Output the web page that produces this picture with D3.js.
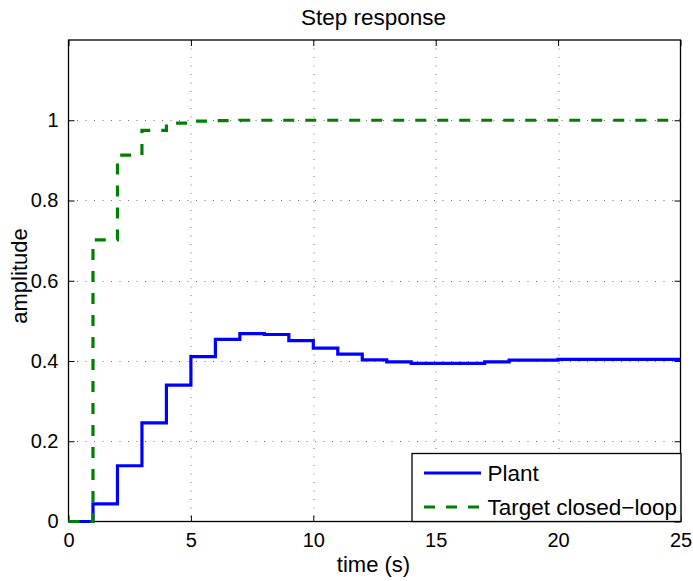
<!DOCTYPE html>
<meta charset="utf-8">
<style>
  body { margin: 0; background: #fff; }
  * { font-family: "Liberation Sans", Arial, sans-serif; }
  .grid line { stroke: #000; stroke-width: 1; stroke-dasharray: 1,7.5; opacity: 0.55; }
</style>
<body>
<script src="https://d3js.org/d3.v7.min.js"></script>
<script>
// sample times (step held until next sample)
var times = [0,1,2,3,4,5,6,7,8,9,10,11,12,13,14,15,16,17,18,19,20,21,22,23,24,25];
// plant step response
var plant = [0,0.044,0.139,0.246,0.340,0.411,0.454,0.468,0.466,0.451,0.432,0.417,0.403,0.398,0.394,0.394,0.394,0.398,0.402,0.402,0.404,0.404,0.404,0.404,0.404,0.404];
// target closed-loop step response
var target = [0,0.702,0.913,0.975,0.993,0.998,0.999,1,1,1,1,1,1,1,1,1,1,1,1,1,1,1,1,1,1,1];
var xTicks = [0,5,10,15,20,25];
var yTicks = [0,0.2,0.4,0.6,0.8,1];

var W = 693, H = 581;
var margin = {top: 40, right: 12.5, bottom: 59.5, left: 68.5};
var width = W - margin.left - margin.right,
    height = H - margin.top - margin.bottom;

var svg = d3.select("body").append("svg").attr("width", W).attr("height", H);
var g = svg.append("g").attr("transform", "translate(" + margin.left + "," + margin.top + ")");

var x = d3.scaleLinear().domain([0, 25]).range([0, width]);
var y = d3.scaleLinear().domain([0, 1.2]).range([height, 0]);

//grid
var grid = g.append("g").attr("class", "grid");
grid.selectAll(".gx").data(xTicks.slice(1, -1)).enter().append("line")
  .attr("x1", function(d){ return Math.round(x(d)) + 0.5; })
  .attr("x2", function(d){ return Math.round(x(d)) + 0.5; })
  .attr("y1", 0).attr("y2", height);
grid.selectAll(".gy").data(yTicks.slice(1)).enter().append("line")
  .attr("y1", function(d){ return Math.round(y(d)) + 0.5; })
  .attr("y2", function(d){ return Math.round(y(d)) + 0.5; })
  .attr("x1", 0).attr("x2", width);

//axes (inward ticks on all sides)
function styleAxis(sel, labels) {
  sel.select(".domain").remove();
  sel.selectAll(".tick line").attr("stroke", "#000").attr("stroke-width", 1);
  sel.selectAll(".tick text").attr("fill", "#000").style("font-size", "20px");
  if (!labels) sel.selectAll(".tick text").remove();
}
var xb = g.append("g").attr("transform", "translate(0," + height + ")")
  .call(d3.axisBottom(x).tickValues(xTicks).tickSize(-6).tickPadding(11).tickFormat(d3.format("d")));
styleAxis(xb, true);
var xt = g.append("g").call(d3.axisTop(x).tickValues(xTicks).tickSize(-6));
styleAxis(xt, false);
var yl = g.append("g")
  .call(d3.axisLeft(y).tickValues(yTicks).tickSize(-6).tickPadding(10).tickFormat(function(d){ return d === 0 || d === 1 ? d3.format("d")(d) : d3.format(".1f")(d); }));
styleAxis(yl, true);
var yr = g.append("g").attr("transform", "translate(" + width + ",0)")
  .call(d3.axisRight(y).tickValues(yTicks).tickSize(-6));
styleAxis(yr, false);

g.append("rect").attr("width", width).attr("height", height)
  .attr("fill", "none").attr("stroke", "#000").attr("stroke-width", 1.3);

//step lines
var line = d3.line().curve(d3.curveStepAfter)
  .x(function(d){ return x(d[0]); })
  .y(function(d){ return y(d[1]); });

var clip = g.append("clipPath").attr("id", "clip").append("rect")
  .attr("x", -2).attr("y", 0).attr("width", width + 2).attr("height", height + 2);

g.append("path").attr("clip-path", "url(#clip)")
  .attr("d", line(d3.zip(times, plant)))
  .attr("fill", "none").attr("stroke", "#0000ff").attr("stroke-width", 3.2);
g.append("path").attr("clip-path", "url(#clip)")
  .attr("d", line(d3.zip(times, target)))
  .attr("fill", "none").attr("stroke", "#008000").attr("stroke-width", 3.2)
  .attr("stroke-dasharray", "11,11");

//labels
svg.append("text").attr("x", 373.5).attr("y", 25)
  .attr("text-anchor", "middle").style("font-size", "22.5px").text("Step response");
svg.append("text").attr("x", 373.5).attr("y", 572)
  .attr("text-anchor", "middle").style("font-size", "22px").text("time (s)");
svg.append("text").attr("transform", "translate(27,276) rotate(-90)")
  .attr("text-anchor", "middle").style("font-size", "22px").text("amplitude");

//legend
var lg = svg.append("g").attr("transform", "translate(412,453.5)");
lg.append("rect").attr("width", 269).attr("height", 68)
  .attr("fill", "#fff").attr("stroke", "#000").attr("stroke-width", 1.3);
var items = [["Plant", "#0000ff", null], ["Target closed\u2212loop", "#008000", "11,11"]];
items.forEach(function(it, i) {
  var yy = 19.5 + i * 34;
  lg.append("line").attr("x1", 12).attr("x2", 69).attr("y1", yy).attr("y2", yy)
    .attr("stroke", it[1]).attr("stroke-width", 3.2).attr("stroke-dasharray", it[2]);
  lg.append("text").attr("x", 75.5).attr("y", yy + 8).style("font-size", "22.5px").text(it[0]);
});
</script>
</body>
